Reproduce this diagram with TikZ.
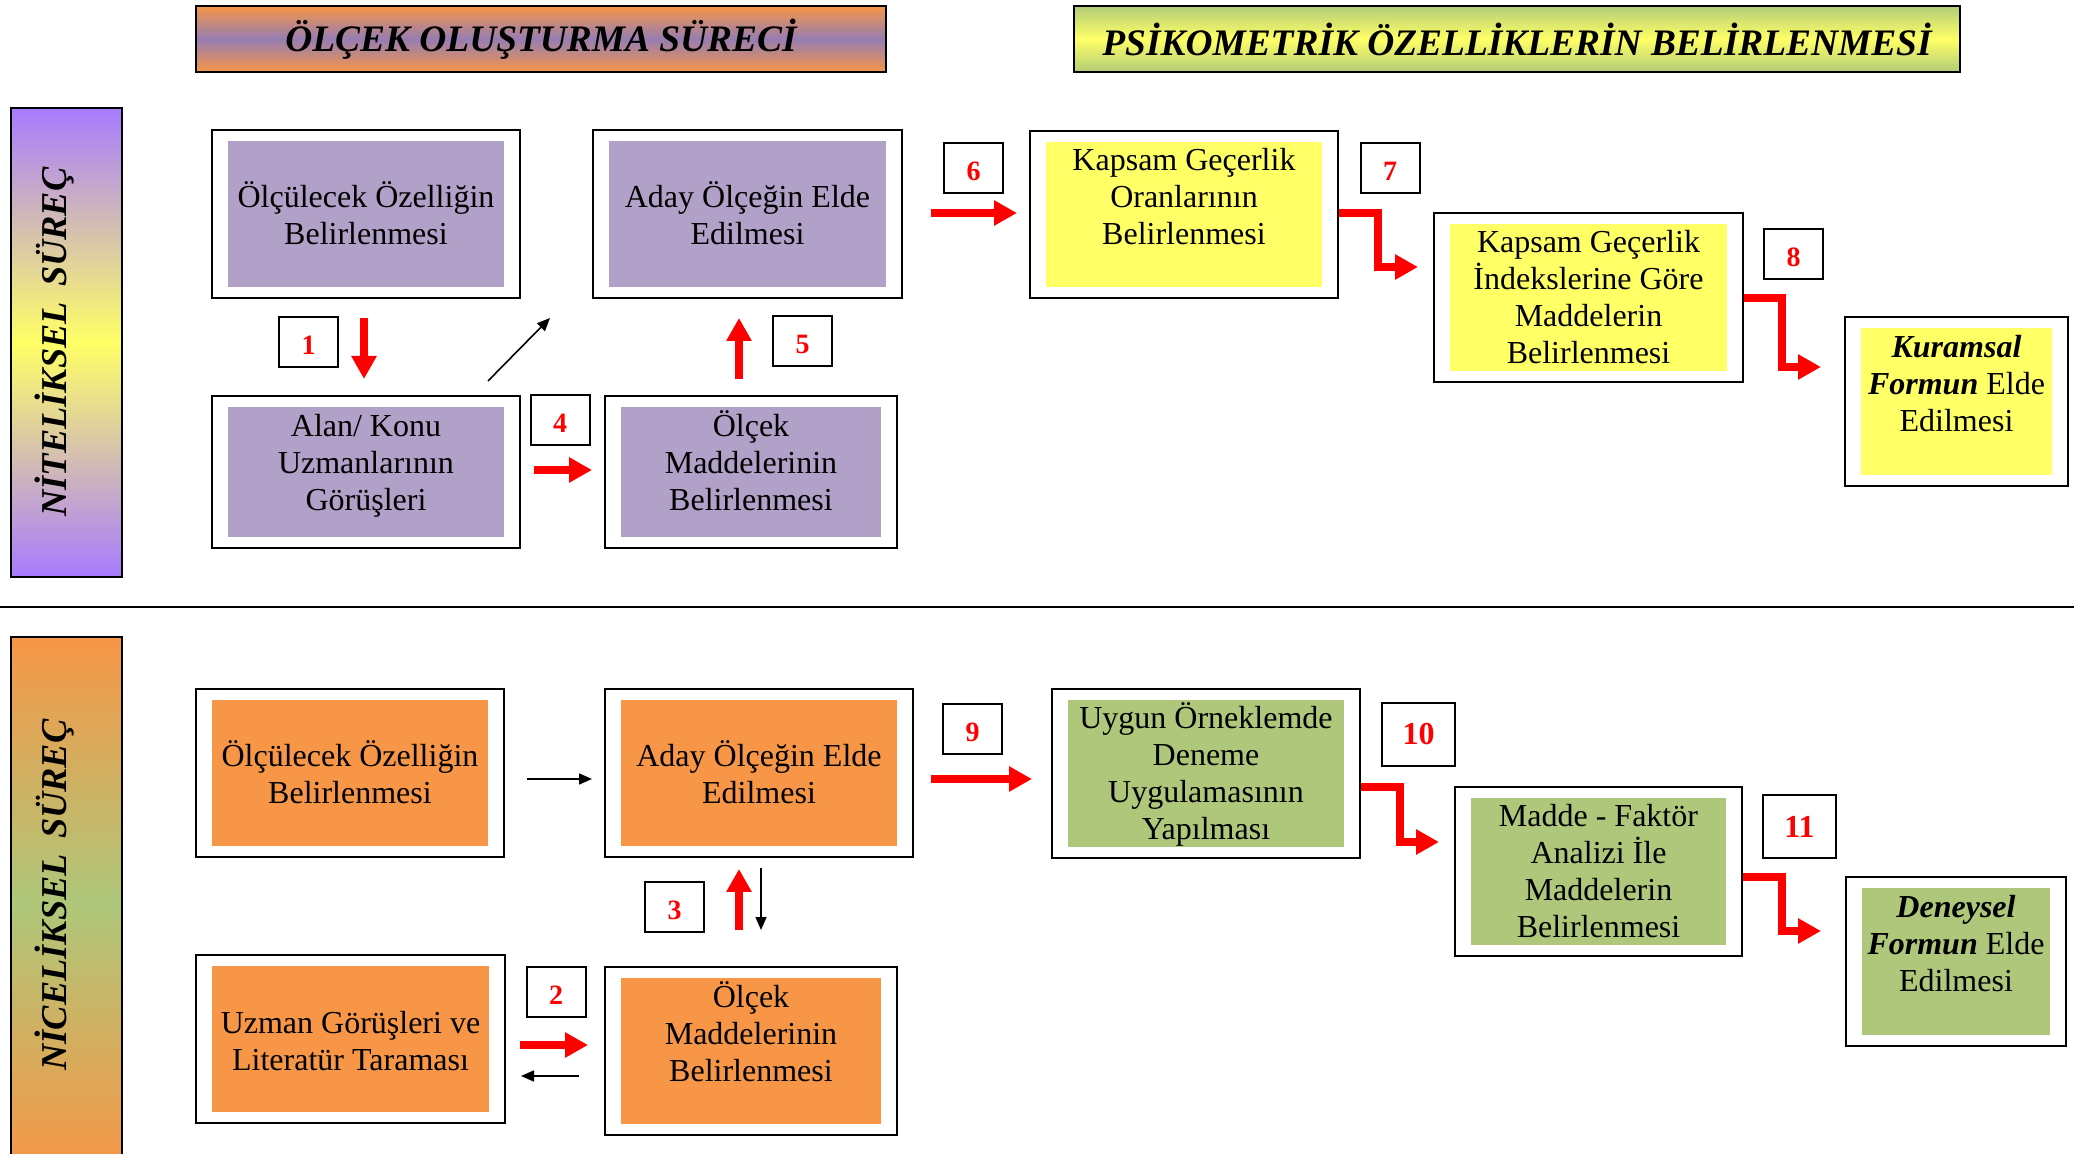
\documentclass[tikz,border=0pt]{standalone}
\usepackage{fontspec}
\setmainfont{Liberation Serif}
\usetikzlibrary{arrows.meta}
\definecolor{boxpurple}{RGB}{177,160,199}
\definecolor{boxyellow}{RGB}{255,255,102}
\definecolor{boxorange}{RGB}{247,150,70}
\definecolor{boxgreen}{RGB}{174,199,122}
\definecolor{bandviolet}{RGB}{167,123,255}
\definecolor{hdrpurple}{RGB}{150,125,178}
\definecolor{hdrgreen}{RGB}{178,204,120}
\definecolor{arrred}{RGB}{255,0,0}
\newcommand{\mkbox}[6]{%
  \node[outerbox, minimum width={(#4-#2)*0.5pt}, minimum height={(#5-#3)*0.5pt}] (#1) at ({(#2+#4)/2},{(#3+#5)/2}) {};
  \node[fill=#6, inner sep=0pt, minimum width={(#4-#2-32)*0.5pt}, minimum height={(#5-#3-22)*0.5pt}] (#1in) at ({(#2+#4)/2},{(#3+#5)/2}) {};
}
\newcommand{\ltxt}[1]{\parbox[t]{220pt}{\centering #1}}
\begin{document}
\begin{tikzpicture}[x=0.5pt,y=-0.5pt,
  outerbox/.style={draw=black, line width=1pt, fill=white, inner sep=0pt},
  boxtext/.style={anchor=base, inner sep=0pt, font=\fontsize{16}{18.5}\selectfont},
  numbox/.style={draw=black, line width=1pt, fill=white, inner sep=0pt, minimum width=29.5pt, minimum height=25pt, text=arrred, text height=12.5pt, text depth=0pt, font=\fontsize{14}{16}\selectfont\bfseries},
  bignum/.style={draw=black, line width=1pt, fill=white, inner sep=0pt, minimum width=36.5pt, minimum height=31.5pt, text=arrred, font=\fontsize{16}{18}\selectfont\bfseries},
  redarr/.style={draw=arrred, line width=4.3pt, line join=miter, -{Triangle[length=11.5pt, width=12pt]}},
  blkarr/.style={draw=black, line width=0.8pt, -{Triangle[length=6.5pt, width=5.5pt]}},
  hdr/.style={draw=black, line width=1pt, inner sep=0pt, font=\fontsize{18.7}{20}\selectfont\bfseries\itshape},
  bandtxt/.style={rotate=90, inner sep=0pt, font=\fontsize{18.2}{20}\selectfont\bfseries\itshape}
]
\clip (0,0) rectangle (2074,1154);
\fill[white] (0,0) rectangle (2074,1154);

% headers
\node[hdr, minimum width=345pt, minimum height=33pt, top color=boxorange, bottom color=boxorange, middle color=hdrpurple] (h1) at (541,39) {ÖLÇEK OLUŞTURMA SÜRECİ};
\node[hdr, minimum width=443pt, minimum height=33pt, top color=hdrgreen, bottom color=hdrgreen, middle color=boxyellow] (h2) at (1517,39) {PSİKOMETRİK ÖZELLİKLERİN BELİRLENMESİ};

% side bands
\path[draw=black, line width=1pt, top color=bandviolet, bottom color=bandviolet, middle color=boxyellow] (11,108) rectangle (122,577);
\node[bandtxt] (nit) at (55,342) {NİTELİKSEL\, SÜREÇ};
\path[draw=black, line width=1pt, top color=boxorange, bottom color=boxorange, middle color=boxgreen] (11,637) rectangle (122,1170);
\node[bandtxt] (nic) at (55,895) {NİCELİKSEL\, SÜREÇ};

% separator
\draw[line width=1.2pt] (0,607) -- (2074,607);

% top section boxes
\mkbox{a1}{212}{130}{520}{298}{boxpurple}
\mkbox{a2}{593}{130}{902}{298}{boxpurple}
\mkbox{a3}{212}{396}{520}{548}{boxpurple}
\mkbox{a4}{605}{396}{897}{548}{boxpurple}
\mkbox{k1}{1030}{131}{1338}{298}{boxyellow}
\mkbox{k2}{1434}{213}{1743}{382}{boxyellow}
\mkbox{k3}{1845}{317}{2068}{486}{boxyellow}

\node[boxtext] (a1t) at (366,208) {\ltxt{Ölçülecek Özelliğin\\Belirlenmesi}};
\node[boxtext] (a2t) at (747.5,208) {\ltxt{Aday Ölçeğin Elde\\Edilmesi}};
\node[boxtext] (a3t) at (366,437) {\ltxt{Alan/ Konu\\Uzmanlarının\\Görüşleri}};
\node[boxtext] (a4t) at (751,437) {\ltxt{Ölçek\\Maddelerinin\\Belirlenmesi}};
\node[boxtext] (k1t) at (1184,171) {\ltxt{Kapsam Geçerlik\\Oranlarının\\Belirlenmesi}};
\node[boxtext] (k2t) at (1588.5,253) {\ltxt{Kapsam Geçerlik\\İndekslerine Göre\\Maddelerin\\Belirlenmesi}};
\node[boxtext] (k3t) at (1956.5,358) {\ltxt{\textbf{\textit{Kuramsal}}\\\textbf{\textit{Formun}} Elde\\Edilmesi}};

% bottom section boxes
\mkbox{b1}{196}{689}{504}{857}{boxorange}
\mkbox{b2}{605}{689}{913}{857}{boxorange}
\mkbox{b3}{196}{955}{505}{1123}{boxorange}
\mkbox{b4}{605}{967}{897}{1135}{boxorange}
\mkbox{u1}{1052}{689}{1360}{858}{boxgreen}
\mkbox{u2}{1455}{787}{1742}{956}{boxgreen}
\mkbox{u3}{1846}{877}{2066}{1046}{boxgreen}

\node[boxtext] (b1t) at (350,767) {\ltxt{Ölçülecek Özelliğin\\Belirlenmesi}};
\node[boxtext] (b2t) at (759,767) {\ltxt{Aday Ölçeğin Elde\\Edilmesi}};
\node[boxtext] (b3t) at (350.5,1033) {\ltxt{Uzman Görüşleri ve\\Literatür Taraması}};
\node[boxtext] (b4t) at (751,1007) {\ltxt{Ölçek\\Maddelerinin\\Belirlenmesi}};
\node[boxtext] (u1t) at (1206,729) {\ltxt{Uygun Örneklemde\\Deneme\\Uygulamasının\\Yapılması}};
\node[boxtext] (u2t) at (1598.5,827) {\ltxt{Madde - Faktör\\Analizi İle\\Maddelerin\\Belirlenmesi}};
\node[boxtext] (u3t) at (1956,917) {\ltxt{\textbf{\textit{Deneysel}}\\\textbf{\textit{Formun}} Elde\\Edilmesi}};

% number boxes
\node[numbox] (n1) at (308.5,342) {1};
\node[numbox] (n2) at (556,992) {2};
\node[numbox] (n3) at (674.5,907) {3};
\node[numbox] (n4) at (560,420) {4};
\node[numbox] (n5) at (802.5,341.5) {5};
\node[numbox] (n6) at (973.5,168.5) {6};
\node[numbox] (n7) at (1390,168.5) {7};
\node[numbox] (n8) at (1793.5,254) {8};
\node[numbox] (n9) at (972.5,729.5) {9};
\node[bignum] (n10) at (1418.5,734.5) {10};
\node[bignum] (n11) at (1799.5,827) {11};

% connectors, top
\draw[redarr, shorten <=9.5pt, shorten >=8pt] (a1.south -| 364,0) -- (a3.north -| 364,0);
\draw[redarr, shorten <=8pt, shorten >=9.5pt] (a4.north -| 739,0) -- (a2.south -| 739,0);
\draw[redarr, shorten <=6.5pt, shorten >=6pt] (a3.east |- 0,470) -- (a4.west |- 0,470);
\coordinate (d1) at (488,381);
\coordinate (d2) at (550,318);
\draw[blkarr] (d1) -- (d2);
\draw[redarr, shorten <=14pt, shorten >=6pt] (a2.east |- 0,213) -- (k1.west |- 0,213);
\draw[redarr, shorten >=7.5pt] (k1.east |- 0,213) -- (1378,213) -- (1378,267) -- (k2.west |- 0,267);
\draw[redarr, shorten >=11.5pt] (k2.east |- 0,298) -- (1782,298) -- (1782,367) -- (k3.west |- 0,367);

% connectors, bottom
\draw[blkarr, shorten <=11pt, shorten >=6pt] (b1.east |- 0,779) -- (b2.west |- 0,779);
\draw[redarr, shorten <=8.5pt, shorten >=9.5pt] (b2.east |- 0,779) -- (u1.west |- 0,779);
\draw[redarr, shorten >=7.5pt] (u1.east |- 0,787) -- (1400,787) -- (1400,842) -- (u2.west |- 0,842);
\draw[redarr, shorten >=12pt] (u2.east |- 0,877) -- (1782,877) -- (1782,931) -- (u3.west |- 0,931);
\draw[redarr, shorten <=18pt, shorten >=5.5pt] (b4.north -| 739,0) -- (b2.south -| 739,0);
\draw[blkarr, shorten <=5pt, shorten >=18pt] (b2.south -| 761,0) -- (b4.north -| 761,0);
\draw[redarr, shorten <=7pt, shorten >=8pt] (b3.east |- 0,1045) -- (b4.west |- 0,1045);
\draw[blkarr, shorten <=12.5pt, shorten >=7.5pt] (b4.west |- 0,1076) -- (b3.east |- 0,1076);
\end{tikzpicture}
\end{document}
